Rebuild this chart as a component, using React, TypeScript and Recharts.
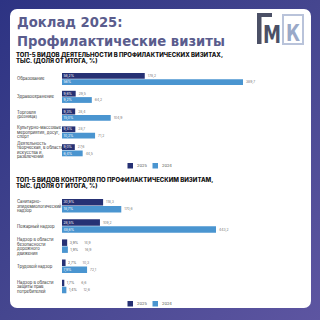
import React from "react";
import { BarChart, Bar, XAxis, YAxis } from "recharts";

// Top-5 activities in preventive visits, thousands
const activityLabels = [
  ["Образование"],
  ["Здравоохранение"],
  ["Торговля", "(розница)"],
  ["Культурно-массовые", "мероприятия, досуг,", "спорт"],
  ["Деятельность", "творческая, в области", "искусства и", "развлечений"],
];
const activity2025 = [178.2, 29.5, 28.4, 28.7, 27.6];
const activity2024 = [389.7, 64.2, 104.9, 71.2, 44.5];
const activityPct2025 = ["58,2%", "9,6%", "9,3%", "9,4%", "9,0%"];
const activityPct2024 = ["56%", "9,2%", "15,0%", "10,2%", "6,4%"];

// Top-5 control types in preventive visits, thousands
const controlLabels = [
  ["Санитарно-", "эпидемиологический", "надзор"],
  ["Пожарный надзор"],
  ["Надзор в области", "безопасности", "дорожного", "движения"],
  ["Трудовой надзор"],
  ["Надзор в области", "защиты прав", "потребителей"],
];
const control2025 = [118.3, 109.2, 14.9, 10.3, 6.6];
const control2024 = [170.6, 443.2, 16.9, 72.1, 12.6];
const controlPct2025 = ["30,9%", "28,5%", "3,9%", "2,7%", "1,7%"];
const controlPct2024 = ["18,7%", "48,6%", "1,9%", "7,9%", "1,4%"];

const years = ["2025", "2024"];

const DARK = "#263174";
const LIGHT = "#4a95d0";
const FONT = "Inter, 'Noto Sans', sans-serif";
const HEAD = "'DejaVu Sans', 'Noto Sans', sans-serif";

const fmt = (v: number) => v.toFixed(1).replace(".", ",");

function CategoryTick({ x, y, payload, lines }: any) {
  const rows: string[] = lines[payload.index] || [payload.value];
  const lh = 4.6;
  const start = y - ((rows.length - 1) * lh) / 2;
  return (
    <text x={17} y={start} fontSize={4.2} fill="#333" fontFamily={FONT} textAnchor="start">
      {rows.map((r, i) => (
        <tspan key={i} x={17} y={start + i * lh} dy="0.35em">
          {r}
        </tspan>
      ))}
    </text>
  );
}

function makeLabel(pcts: string[], vals: number[]) {
  return (props: any) => {
    const { x, y, width, height, index } = props;
    const cy = y + height / 2;
    const inside = width >= 11;
    const pctX = inside ? x + 1.5 : x + width + 2.5;
    const valX = inside ? x + width + 3 : x + width + 17;
    return (
      <g fontFamily={FONT} fontSize={3.4}>
        <text x={pctX} y={cy} dy="0.35em" fill={inside ? "#fff" : "#555"}>
          {pcts[index]}
        </text>
        <text x={valX} y={cy} dy="0.35em" fill="#777">
          {fmt(vals[index])}
        </text>
      </g>
    );
  };
}

function Legend({ top }: { top: number }) {
  return (
    <svg width={60} height={8} style={{ position: "absolute", left: 127, top }}>
      <rect x={0.5} y={1} width={5.5} height={5.5} fill={DARK} />
      <text x={10} y={4} dy="0.35em" fontSize={4} fill="#555" fontFamily={FONT}>
        {years[0]}
      </text>
      <rect x={25.5} y={1} width={5.5} height={5.5} fill={LIGHT} />
      <text x={35} y={4} dy="0.35em" fontSize={4} fill="#555" fontFamily={FONT}>
        {years[1]}
      </text>
    </svg>
  );
}

function TopChart({
  labels,
  a,
  b,
  pa,
  pb,
  top,
  height,
  rightMargin,
  barSize,
}: any) {
  const data = labels.map((l: string[], i: number) => ({
    name: l.join(" "),
    y2025: a[i],
    y2024: b[i],
  }));
  return (
    <div style={{ position: "absolute", left: 0, top }}>
      <BarChart
        width={320}
        height={height}
        data={data}
        layout="vertical"
        margin={{ top: 2, right: rightMargin, left: 17, bottom: 2 }}
        barGap={0.5}
        barSize={barSize}
      >
        <XAxis type="number" hide domain={[0, Math.max(...a, ...b)]} />
        <YAxis
          type="category"
          dataKey="name"
          width={45}
          axisLine={false}
          tickLine={false}
          interval={0}
          tick={<CategoryTick lines={labels} />}
        />
        <Bar dataKey="y2025" fill={DARK} isAnimationActive={false} label={makeLabel(pa, a)} />
        <Bar dataKey="y2024" fill={LIGHT} isAnimationActive={false} label={makeLabel(pb, b)} />
      </BarChart>
    </div>
  );
}

function Logo() {
  return (
    <svg width={50} height={40} style={{ position: "absolute", left: 256, top: 12 }}>
      <path d="M1 1 H16 V5 H5.5 V32 H1 Z" fill="#4b5066" />
      <text
        x={7}
        y={31}
        fontSize={24}
        fontWeight={700}
        fill="#4b5066"
        fontFamily={HEAD}
        textLength={18}
        lengthAdjust="spacingAndGlyphs"
      >
        М
      </text>
      <rect x={27} y={3} width={20} height={29} fill="none" stroke="#b9c3da" strokeWidth={2} />
      <text
        x={30}
        y={29}
        fontSize={23}
        fontWeight={700}
        fill="#9aa9c8"
        fontFamily={HEAD}
        textLength={14}
        lengthAdjust="spacingAndGlyphs"
      >
        К
      </text>
    </svg>
  );
}

function Subtitle({ top, lines }: { top: number; lines: string[] }) {
  return (
    <svg width={300} height={14} style={{ position: "absolute", left: 0, top }}>
      {lines.map((l, i) => (
        <text key={i} x={16} y={5 + i * 6.3} fontSize={6} fontWeight={800} fill="#111" fontFamily={FONT}>
          {l}
        </text>
      ))}
    </svg>
  );
}

export default function App() {
  return (
    <div
      style={{
        position: "absolute",
        left: 0,
        top: 0,
        width: 320,
        height: 320,
        overflow: "hidden",
        background: "linear-gradient(135deg, #2d3383 0%, #45468f 50%, #5d55a1 100%)",
      }}
    >
      <div
        style={{
          position: "absolute",
          left: 10,
          top: 9,
          width: 301,
          height: 299,
          background: "#fff",
          borderRadius: 7,
        }}
      />
      <div
        style={{
          position: "absolute",
          left: 17,
          top: 13,
          fontFamily: HEAD,
          fontWeight: 700,
          fontSize: 13.2,
          lineHeight: "19px",
          color: "#5a5c8d",
        }}
      >
        Доклад 2025:
        <br />
        Профилактические визиты
      </div>
      <Logo />
      <Subtitle
        top={52}
        lines={["ТОП-5 ВИДОВ ДЕЯТЕЛЬНОСТИ В ПРОФИЛАКТИЧЕСКИХ ВИЗИТАХ,", "ТЫС. (ДОЛЯ ОТ ИТОГА, %)"]}
      />
      <TopChart
        labels={activityLabels}
        a={activity2025}
        b={activity2024}
        pa={activityPct2025}
        pb={activityPct2024}
        top={68}
        height={93}
        rightMargin={77}
        barSize={5.8}
      />
      <Legend top={162} />
      <Subtitle
        top={177}
        lines={["ТОП-5 ВИДОВ КОНТРОЛЯ ПО ПРОФИЛАКТИЧЕСКИМ ВИЗИТАМ,", "ТЫС. (ДОЛЯ ОТ ИТОГА, %)"]}
      />
      <TopChart
        labels={controlLabels}
        a={control2025}
        b={control2024}
        pa={controlPct2025}
        pb={controlPct2024}
        top={194}
        height={105}
        rightMargin={104}
        barSize={6.5}
      />
      <Legend top={300} />
    </div>
  );
}
